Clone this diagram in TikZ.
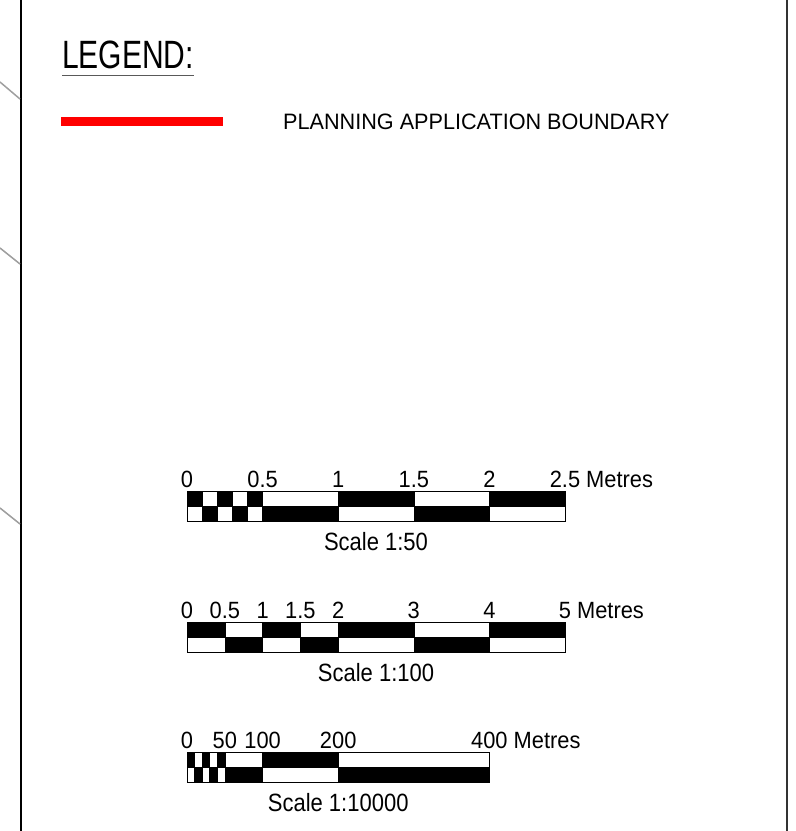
\documentclass[tikz,border=0pt]{standalone}
\usepackage{fontspec}
\setmainfont{Liberation Sans}
\newfontfamily\legendfnt[FakeStretch=0.76]{Liberation Sans}
\newfontfamily\keyfnt[FakeStretch=0.97]{Liberation Sans}
\newfontfamily\barfnt[FakeStretch=0.88]{Liberation Sans}
\newfontfamily\tickfnt[FakeStretch=0.93]{Liberation Sans}
\usetikzlibrary{positioning}

\begin{document}
\begin{tikzpicture}[x=1pt, y=-1pt,
        frame/.style={draw=black, line width=2.3pt},
        leader/.style={draw=gray!75, line width=1.5pt},
        boundary/.style={draw=red, line width=8.5pt},
        cell/.style={draw=black, line width=0.6pt},
        tick/.style={anchor=base, inner sep=0pt, font={\tickfnt\fontsize{23.5}{25}\selectfont}},
        bartitle/.style={anchor=base, inner sep=0pt, font={\barfnt\fontsize{25}{27}\selectfont}}]
        \useasboundingbox (0,0) rectangle (796,831);
        % sheet frame
        \draw[frame] (20.7,0) -- (20.7,831);
        \draw[frame, draw=black!80, line width=2pt] (786.5,0) -- (786.5,831);
        \draw[leader] (0,82) -- (20,99);
        \draw[leader] (0,248) -- (20,264);
        \draw[leader] (0,508) -- (20,524);
        % legend
        \node[anchor=base west, inner sep=0pt, font={\legendfnt\fontsize{39.5}{41}\selectfont}] (legend) at (62,68) {LEGEND:};
        \draw[draw=black!65, line width=1.5pt] ([yshift=-7.5pt]legend.base west) -- ([yshift=-7.5pt]legend.base east);
        \draw[boundary] (61,121.7) -- (222.7,121.7);
        \node[anchor=base west, inner sep=0pt, font={\keyfnt\fontsize{22.3}{24}\selectfont}] (boundarykey) at (283,129) {PLANNING APPLICATION BOUNDARY};
        % scale 1:50
        \begin{scope}[xshift=187pt, yshift=-491pt, x=151.2pt]
          \foreach \a/\b/\t/\u in {0/.1/black/white, .1/.2/white/black, .2/.3/black/white, .3/.4/white/black, .4/.5/black/white, .5/1/white/black, 1/1.5/black/white, 1.5/2/white/black, 2/2.5/black/white}
          {
            \draw[cell, fill=\t] (\a,0) rectangle (\b,15);
            \draw[cell, fill=\u] (\a,15) rectangle (\b,30);
          }
          \foreach \v [count=\i] in {0,0.5,1,1.5,2}
            \node[tick] (m50-\i) at (\v,-4) {\v};
          \node[tick] (m50-end) at (2.5,-4) {2.5\rlap{ Metres}};
          \node[bartitle] (t50) at (1.25,59) {Scale 1:50};
        \end{scope}
        % scale 1:100
        \begin{scope}[xshift=187pt, yshift=-622pt, x=75.6pt]
          \foreach \a/\b/\t/\u in {0/.5/black/white, .5/1/white/black, 1/1.5/black/white, 1.5/2/white/black, 2/3/black/white, 3/4/white/black, 4/5/black/white}
          {
            \draw[cell, fill=\t] (\a,0) rectangle (\b,15);
            \draw[cell, fill=\u] (\a,15) rectangle (\b,30);
          }
          \foreach \v [count=\i] in {0,0.5,1,1.5,2,3,4}
            \node[tick] (m100-\i) at (\v,-4) {\v};
          \node[tick] (m100-end) at (5,-4) {5\rlap{ Metres}};
          \node[bartitle] (t100) at (2.5,59) {Scale 1:100};
        \end{scope}
        % scale 1:10000
        \begin{scope}[xshift=187pt, yshift=-752pt, x=0.756pt]
          \foreach \a/\b/\t/\u in {0/10/black/white, 10/20/white/black, 20/30/black/white, 30/40/white/black, 40/50/black/white, 50/100/white/black, 100/200/black/white, 200/400/white/black}
          {
            \draw[cell, fill=\t] (\a,0) rectangle (\b,15);
            \draw[cell, fill=\u] (\a,15) rectangle (\b,30);
          }
          \foreach \v [count=\i] in {0,50,100,200}
            \node[tick] (m10k-\i) at (\v,-4) {\v};
          \node[tick] (m10k-end) at (400,-4) {400\rlap{ Metres}};
          \node[bartitle] (t10k) at (200,59) {Scale 1:10000};
        \end{scope}
      \end{tikzpicture}
\end{document}
